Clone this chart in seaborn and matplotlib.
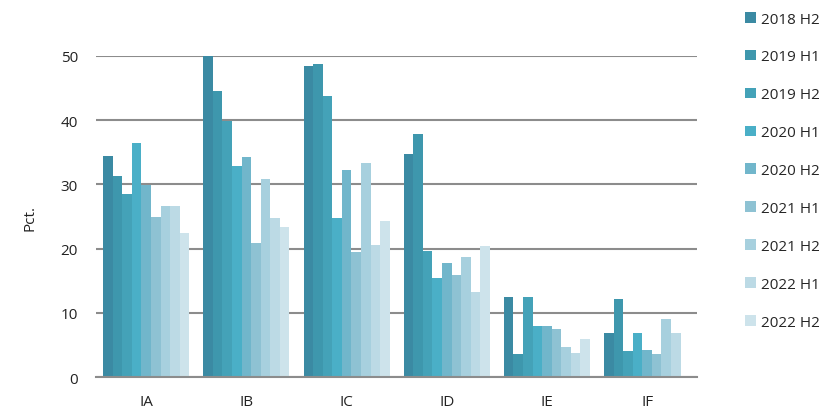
import numpy as np
import pandas as pd
import matplotlib
matplotlib.use('Agg')
import matplotlib.pyplot as plt
import seaborn as sns

# data
categories = ['IA', 'IB', 'IC', 'ID', 'IE', 'IF']
periods = ['2018 H2', '2019 H1', '2019 H2', '2020 H1', '2020 H2',
           '2021 H1', '2021 H2', '2022 H1', '2022 H2']
values = {
    '2018 H2': [34.5, 50.0, 48.5, 34.7, 12.4, 6.9],
    '2019 H1': [31.3, 44.6, 48.8, 37.9, 3.6, 12.1],
    '2019 H2': [28.5, 39.8, 43.7, 19.6, 12.4, 4.0],
    '2020 H1': [36.5, 32.9, 24.8, 15.4, 7.9, 6.8],
    '2020 H2': [29.9, 34.3, 32.2, 17.8, 8.0, 4.2],
    '2021 H1': [25.0, 20.9, 19.4, 15.9, 7.5, 3.6],
    '2021 H2': [26.6, 30.9, 33.3, 18.7, 4.6, 9.0],
    '2022 H1': [26.6, 24.8, 20.5, 13.2, 3.8, 6.8],
    '2022 H2': [22.4, 23.3, 24.3, 20.4, 5.9, np.nan],
}
colors = ['#3b8aa3', '#3e97ad', '#44a2b8', '#4aafc7', '#71b6cb',
          '#8ec2d3', '#a7d0de', '#bcdae5', '#cde3eb']

rows = []
for p in periods:
    for c, v in zip(categories, values[p]):
        rows.append({'cat': c, 'period': p, 'pct': v})
df = pd.DataFrame(rows)

sns.set_style('white')
plt.rcParams['font.family'] = ['Open Sans', 'DejaVu Sans']
fs = 11

fig = plt.figure(figsize=(8.29, 4.10), dpi=100)
ax = fig.add_axes([0.116, 0.078, 0.725, 0.783])

sns.barplot(data=df, x='cat', y='pct', hue='period', hue_order=periods,
            order=categories, palette=colors, width=0.86, gap=0,
            saturation=1, linewidth=0, ax=ax, legend=True)

ax.set_ylim(0, 50)
ax.set_xlim(-0.5, 5.5)
ax.set_yticks([0, 10, 20, 30, 40, 50])
ax.yaxis.grid(True, color='#8c8c8c', linewidth=1.5)
ax.set_axisbelow(True)
for s in ['top', 'right', 'left']:
    ax.spines[s].set_visible(False)
ax.spines['bottom'].set_color('#8c8c8c')
ax.spines['bottom'].set_linewidth(1.5)

ax.set_xticks(np.arange(-0.5, 6, 1), minor=True)
ax.tick_params(axis='x', which='minor', length=5, width=1.2, color='#8c8c8c')
ax.tick_params(axis='x', which='major', length=0, pad=12.5, labelsize=fs, labelcolor='#222222')
ax.tick_params(axis='y', length=0, pad=13, labelsize=fs, labelcolor='#222222')
ax.set_xlabel('')
ax.set_ylabel('Pct.', fontsize=fs, color='#222222', labelpad=17)

handles, labels = ax.get_legend_handles_labels()
ax.legend(handles, labels, loc='upper left', bbox_to_anchor=(0.889, 0.99),
          bbox_transform=fig.transFigure, frameon=False, fontsize=fs,
          handlelength=0.7, handleheight=0.7, handletextpad=0.35,
          labelspacing=1.5, borderaxespad=0.15)

fig.savefig('out.png', dpi=100)
